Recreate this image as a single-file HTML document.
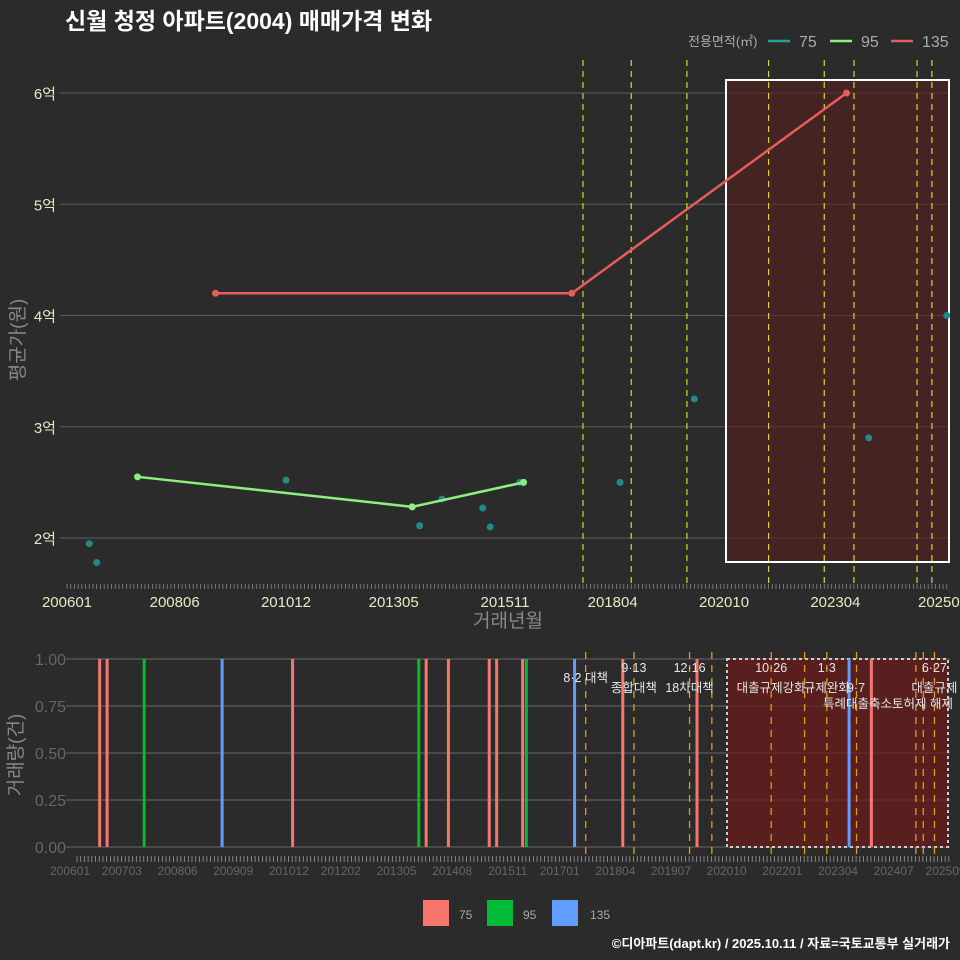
<!DOCTYPE html>
<html><head><meta charset="utf-8"><style>
html,body{margin:0;padding:0;background:#2b2b2b;}
svg{display:block;font-family:"Liberation Sans","Noto Sans CJK KR",sans-serif;}
</style></head><body>
<svg id="c" width="960" height="960" viewBox="0 0 960 960" xmlns="http://www.w3.org/2000/svg">
<rect width="960" height="960" fill="#2b2b2b"/>
<text x="65" y="29" fill="#ffffff" font-size="23" font-weight="bold">신월 청정 아파트(2004) 매매가격 변화</text>
<g>
<text x="688" y="46" fill="#aaaaaa" font-size="13">전용면적(㎡)</text>
<line x1="768" y1="41" x2="790" y2="41" stroke="#2a9d9a" stroke-width="2.5"/>
<text x="799" y="47" fill="#aaaaaa" font-size="16">75</text>
<line x1="830" y1="41" x2="852" y2="41" stroke="#90ee80" stroke-width="2.5"/>
<text x="861" y="47" fill="#aaaaaa" font-size="16">95</text>
<line x1="891" y1="41" x2="913" y2="41" stroke="#e85c5c" stroke-width="2.5"/>
<text x="922" y="47" fill="#aaaaaa" font-size="16">135</text>
</g>
<text transform="translate(24,340) rotate(-90)" text-anchor="middle" fill="#888" font-size="19">평균가(원)</text>
<text x="508" y="627" text-anchor="middle" fill="#888" font-size="19">거래년월</text>
<text transform="translate(22,755) rotate(-90)" text-anchor="middle" fill="#888" font-size="19">거래량(건)</text>
<g id="topPanel"></g>
<g id="botPanel"></g>
<g>
<rect x="423" y="900" width="26" height="26" fill="#f8766d"/>
<text x="459" y="919" fill="#aaa" font-size="12">75</text>
<rect x="487" y="900" width="26" height="26" fill="#00ba38"/>
<text x="523" y="919" fill="#aaa" font-size="12">95</text>
<rect x="552" y="900" width="26" height="26" fill="#619cff"/>
<text x="590" y="919" fill="#aaa" font-size="12">135</text>
</g>
<text x="950" y="948" text-anchor="end" fill="#ffffff" font-size="13" font-weight="bold">©디아파트(dapt.kr) / 2025.10.11 / 자료=국토교통부 실거래가</text>
</svg>
<script>
const ym = s => (Math.floor(s/100)-2006)*12 + (s%100-1);
const scatter75 = [[200607,1.95],[200609,1.78],[201012,2.52],[201312,2.11],[201406,2.35],[201505,2.27],[201507,2.10],[201603,2.50],[201806,2.50],[202002,3.25],[202401,2.90],[202510,4.00]];
const line95 = [[200708,2.55],[201310,2.28],[201604,2.50]];
const line135 = [[200905,4.20],[201705,4.20],[202307,6.00]];
const yTicks = [2,3,4,5,6];
const yTickLabels = ['2억','3억','4억','5억','6억'];
const xTicksTop = [200601,200806,201012,201305,201511,201804,202010,202304,202509];
const xTicksBot = [200601,200703,200806,200909,201012,201202,201305,201408,201511,201701,201804,201907,202010,202201,202304,202407,202509];
const topPolicy = [201708,201809,201912,202110,202301,202309,202502,202506];
const botPolicy = [201708,201809,201912,202006,202110,202207,202301,202309,202501,202503,202506];
const txBars = [[200609,'75'],[200611,'75'],[200709,'95'],[200906,'135'],[201101,'75'],[201311,'95'],[201401,'75'],[201407,'75'],[201506,'75'],[201508,'75'],[201603,'75'],[201604,'95'],[201705,'135'],[201806,'75'],[202002,'75'],[202307,'135'],[202401,'75']];
const barColors = {'75':'#f8766d','95':'#00ba38','135':'#619cff'};
const volTicks = [0,0.25,0.5,0.75,1];
const volTickLabels = ['0.00','0.25','0.50','0.75','1.00'];
const annotations = [[201708,'8·2 대책','',678],[201809,'9·13','종합대책',668],[201912,'12·16','18차대책',668],[202110,'10·26','대출규제강화',668],[202301,'1·3','규제완화',668],[202506,'6·27','대출규제',668]];

const NS='http://www.w3.org/2000/svg';
const X = s => 67 + ym(s)*3.712;
const XB = s => 70 + ym(s)*3.71;
const Y = v => 538 - (v-2)*111.25;
const YB = v => 847 - v*188;
function mk(parent, tag, attrs, text){const e=document.createElementNS(NS,tag);for(const k in attrs)e.setAttribute(k,attrs[k]);if(text!==undefined)e.textContent=text;parent.appendChild(e);return e;}
const topG=document.getElementById('topPanel'), botG=document.getElementById('botPanel');

yTicks.forEach((v,i)=>{
 const g=mk(topG,'line',{x1:60,x2:950,y1:Y(v),y2:Y(v),stroke:'#5c5c5c','stroke-width':1});
 
 
 const t=mk(topG,'text',{x:56,y:Y(v)+6,'text-anchor':'end',fill:'#e8e8c8','font-size':15},yTickLabels[i]);
 
 
});
const hr=mk(topG,'rect',{x:726,y:80,width:223,height:482,fill:'rgba(90,30,30,0.55)',stroke:'#ffffff','stroke-width':2});


topPolicy.forEach(m=>{
 const l=mk(topG,'line',{x1:X(m),x2:X(m),y1:60,y2:585,stroke:'#d8d820','stroke-width':1.2,'stroke-dasharray':'6,5'});
 
 
});
for(let x=67;x<950;x+=3.712){mk(topG,'line',{x1:x,x2:x,y1:584,y2:589,stroke:'#888','stroke-width':0.8});}
xTicksTop.forEach(s=>{
 const t=mk(topG,'text',{x:X(s),y:607,'text-anchor':'middle',fill:'#e8e8c8','font-size':15},String(s));
 
 
});
scatter75.forEach(p=>{
 const c=mk(topG,'circle',{cx:X(p[0]),cy:Y(p[1]),r:3.5,fill:'#1f8a86'});
 
 
});
function drawLine(data,color,name){
 const pl=mk(topG,'polyline',{points:data.map(p=>X(p[0])+','+Y(p[1])).join(' '),fill:'none',stroke:color,'stroke-width':2.5});
 
 
 data.forEach(p=>{const c=mk(topG,'circle',{cx:X(p[0]),cy:Y(p[1]),r:3.5,fill:color});
 
 });
}
drawLine(line95,'#90ee80','line-95');
drawLine(line135,'#e85c5c','line-135');

volTicks.forEach((v,i)=>{
 const g=mk(botG,'line',{x1:66,x2:950,y1:YB(v),y2:YB(v),stroke:'#5c5c5c','stroke-width':1.3});
 
 
 const t=mk(botG,'text',{x:66,y:YB(v)+6,'text-anchor':'end',fill:'#666','font-size':16},volTickLabels[i]);
 
 
});
const br=mk(botG,'rect',{x:727,y:659,width:221,height:188,fill:'rgba(110,25,25,0.7)',stroke:'#cccccc','stroke-width':2,'stroke-dasharray':'3,3'});


txBars.forEach(b=>{
 const r=mk(botG,'rect',{x:XB(b[0])-1.5,y:YB(1),width:3,height:YB(0)-YB(1),fill:barColors[b[1]]});
 
 
});
botPolicy.forEach(m=>{
 const l=mk(botG,'line',{x1:XB(m),x2:XB(m),y1:652,y2:856,stroke:'#e0a000','stroke-width':1.3,'stroke-dasharray':'7,6'});
 
 
});
annotations.forEach(a=>{
 const t=mk(botG,'text',{x:XB(a[0]),y:a[3]+4,'text-anchor':'middle',fill:'#e8e8e8','font-size':12.5},a[1]);
 
 
 if(a[2]){const t2=mk(botG,'text',{x:XB(a[0]),y:a[3]+24,'text-anchor':'middle',fill:'#e8e8e8','font-size':12.5},a[2]);
 
 }
});
const t97=mk(botG,'text',{x:856,y:692,'text-anchor':'middle',fill:'#e8e8e8','font-size':12.5},'9·7');


const ta=mk(botG,'text',{x:888,y:708,'text-anchor':'middle',fill:'#e8e8e8','font-size':12.5},'특례대출축소토허제 해제');


for(let x=77;x<950;x+=3.71){mk(botG,'line',{x1:x,x2:x,y1:856,y2:862,stroke:'#999','stroke-width':0.8});}
xTicksBot.forEach(s=>{
 const t=mk(botG,'text',{x:XB(s),y:875,'text-anchor':'middle',fill:'#666','font-size':12},String(s));
 
 
});
</script>
</body></html>
